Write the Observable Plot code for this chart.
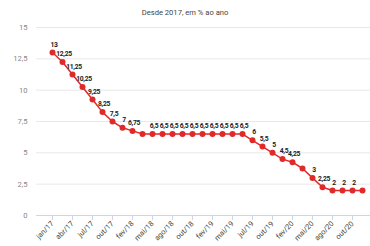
<!DOCTYPE html>
<html><head><meta charset="utf-8">
<script src="https://cdn.jsdelivr.net/npm/d3@7"></script>
<script src="https://cdn.jsdelivr.net/npm/@observablehq/plot@0.6"></script>
<style>
body{margin:0;background:#fff;font-family:Roboto,"Liberation Sans",sans-serif}
#title{width:370px;height:22px;box-sizing:border-box;padding-top:8px;text-align:center;font-size:7.6px;line-height:10px;color:#444}
#chart svg{display:block}
#chart g[font-weight="bold"] text{letter-spacing:-0.35px}
</style>
</head><body>
<div id="title">Desde 2017, em % ao ano</div>
<div id="chart"></div>
<script>
const meetings = ["jan/17","fev/17","abr/17","mai/17","jul/17","set/17","out/17","dez/17","fev/18","mar/18","mai/18","jun/18","ago/18","set/18","out/18","dez/18","fev/19","mar/19","mai/19","jun/19","jul/19","set/19","out/19","dez/19","fev/20","mar/20","mai/20","jun/20","ago/20","set/20","out/20","dez/20"];
const selic = [13,12.25,11.25,10.25,9.25,8.25,7.5,7,6.75,6.5,6.5,6.5,6.5,6.5,6.5,6.5,6.5,6.5,6.5,6.5,6,5.5,5,4.5,4.25,3.75,3,2.25,2,2,2,2];
const labelShown = [1,1,1,1,1,1,1,1,1,0,1,1,1,1,1,1,1,1,1,1,1,1,1,1,1,0,1,1,1,1,1,0];
const xTicks = ["jan/17","abr/17","jul/17","out/17","fev/18","mai/18","ago/18","out/18","fev/19","mai/19","jul/19","out/19","fev/20","mai/20","ago/20","out/20"];
const yTicks = [0,2.5,5,7.5,10,12.5,15];

const fmt = v => String(v).replace(".", ",");
const data = meetings.map((m, i) => ({m, v: selic[i], show: labelShown[i] === 1}));

const chart = Plot.plot({
  width: 370,
  height: 224,
  marginTop: 5,
  marginBottom: 31,
  marginLeft: 36,
  marginRight: 0,
  style: {fontFamily: "Roboto, sans-serif", background: "#fff"},
  x: {type: "point", domain: meetings, range: [40.7, 372.7]},
  y: {domain: [0, 15]},
  marks: [
    Plot.ruleY(yTicks.filter(d => d > 0), {stroke: "#e8e8e8", strokeWidth: 1}),
    Plot.ruleY([0], {stroke: "#ccd6eb", strokeWidth: 1}),
    Plot.axisY(yTicks, {tickSize: 0, tickPadding: 9, tickFormat: fmt, fontSize: 7.6, fill: "#888", label: null}),
    Plot.axisX(xTicks, {tickRotate: -45, tickSize: 5, tickPadding: 2, stroke: "#ccd6eb", fill: "#444", fontSize: 7.4, label: null}),
    Plot.line(data, {x: "m", y: "v", stroke: "#e02a2a", strokeWidth: 1.5}),
    Plot.dot(data, {x: "m", y: "v", r: 3, fill: "#e02a2a"}),
    Plot.text(data.filter(d => d.show), {x: "m", y: "v", text: d => fmt(d.v), dx: 1.5, dy: -8, fontSize: 6.8, fontWeight: "bold", fill: "#222"})
  ]
});
document.getElementById("chart").appendChild(chart);
</script>
</body></html>
